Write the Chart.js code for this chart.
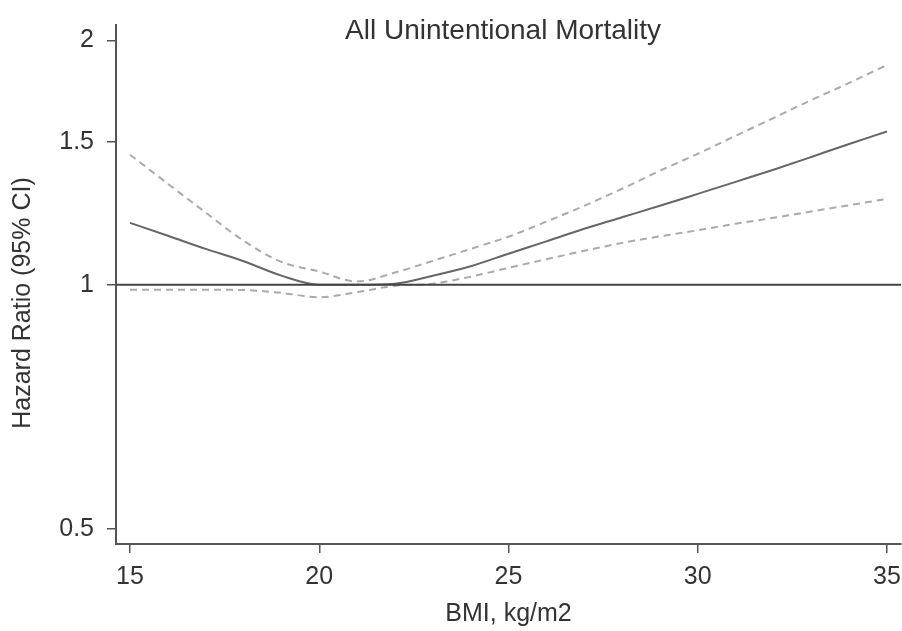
<!DOCTYPE html>
<html>
<head>
<meta charset="utf-8">
<script src="https://cdn.jsdelivr.net/npm/chart.js@4/dist/chart.umd.min.js"></script>
<style>
  html, body { margin: 0; padding: 0; background: #fff; }
  #wrap { width: 902px; height: 631px; }
</style>
</head>
<body>
<div id="wrap"><canvas id="canvas" width="902" height="631"></canvas></div>
<script>
// BMI (kg/m2) and hazard ratio with 95% CI
var bmi   = [15, 16, 17, 18, 19, 20, 21, 22, 23, 24, 25, 26, 27, 28, 29, 30, 31, 32, 33, 34, 35];
var hr    = [1.192, 1.149, 1.107, 1.069, 1.026, 1.0, 1.0, 1.003, 1.026, 1.054, 1.092, 1.131, 1.172, 1.211, 1.251, 1.294, 1.339, 1.386, 1.437, 1.491, 1.545];
var upper = [1.446, 1.332, 1.227, 1.133, 1.067, 1.038, 1.009, 1.035, 1.07, 1.107, 1.146, 1.196, 1.251, 1.313, 1.382, 1.45, 1.526, 1.605, 1.689, 1.773, 1.866];
var lower = [0.986, 0.986, 0.986, 0.985, 0.977, 0.965, 0.979, 0.997, 1.003, 1.023, 1.049, 1.075, 1.101, 1.126, 1.147, 1.167, 1.189, 1.209, 1.231, 1.253, 1.276];

var xTicks = [15, 20, 25, 30, 35];
var yTicks = [0.5, 1, 1.5, 2];
var xMin = 14.63, xMax = 35.37;
var yMin = 0.479, yMax = 2.09;
var refValue = 1;

function pts(ys) {
    return bmi.map(function(b, i) { return { x: b, y: ys[i] }; });
}

var textColor = '#333';
var axisColor = '#555';
var fontFamily = '"Liberation Sans", Arial, sans-serif';

// title sits inside the plot, y-axis title is a bit below centre in the original
var textPlugin = {
    id: 'extraText',
    afterDraw: function(chart) {
        var ctx = chart.ctx;
        ctx.save();
        ctx.fillStyle = textColor;
        ctx.textAlign = 'center';
        ctx.textBaseline = 'middle';
        ctx.font = '28px ' + fontFamily;
        ctx.fillText('All Unintentional Mortality', 503, 31);
        ctx.font = '25px ' + fontFamily;
        ctx.translate(23, 303);
        ctx.rotate(-Math.PI / 2);
        ctx.fillText('Hazard Ratio (95% CI)', 0, 0);
        ctx.restore();
    }
};

window.onload = function() {
    var ctx = document.getElementById('canvas').getContext('2d');
    window.myChart = new Chart(ctx, {
        type: 'line',
        data: {
            datasets: [{
                label: 'Reference',
                data: [{ x: xMin, y: refValue }, { x: xMax, y: refValue }],
                borderColor: '#444',
                borderWidth: 2,
                pointRadius: 0
            }, {
                label: 'Upper 95% CI',
                data: pts(upper),
                borderColor: '#aaa',
                borderWidth: 2,
                borderDash: [7, 5],
                pointRadius: 0,
                cubicInterpolationMode: 'monotone'
            }, {
                label: 'Lower 95% CI',
                data: pts(lower),
                borderColor: '#aaa',
                borderWidth: 2,
                borderDash: [7, 5],
                pointRadius: 0,
                cubicInterpolationMode: 'monotone'
            }, {
                label: 'Hazard Ratio',
                data: pts(hr),
                borderColor: '#666',
                borderWidth: 2,
                pointRadius: 0,
                cubicInterpolationMode: 'monotone'
            }]
        },
        plugins: [textPlugin],
        options: {
            responsive: false,
            animation: false,
            layout: { padding: { top: 25, right: 1, left: 0, bottom: 0 } },
            plugins: {
                legend: { display: false },
                title: { display: false },
                tooltip: { enabled: false }
            },
            scales: {
                x: {
                    type: 'linear',
                    min: xMin,
                    max: xMax,
                    afterBuildTicks: function(axis) {
                        axis.ticks = xTicks.map(function(v) { return { value: v }; });
                    },
                    afterFit: function(axis) {
                        axis.height = 87;
                        axis.paddingLeft = 0;
                        axis.paddingRight = 0;
                    },
                    border: { display: true, color: axisColor, width: 2 },
                    grid: { drawOnChartArea: false, drawTicks: true, tickLength: 9, color: axisColor, lineWidth: 1.5 },
                    ticks: {
                        padding: 9,
                        color: textColor,
                        font: { family: fontFamily, size: 25 },
                        maxRotation: 0,
                        callback: function(v) { return String(v); }
                    },
                    title: {
                        display: true,
                        text: 'BMI, kg/m2',
                        color: textColor,
                        font: { family: fontFamily, size: 25 },
                        padding: { top: 0, bottom: 2 }
                    }
                },
                y: {
                    type: 'logarithmic',
                    min: yMin,
                    max: yMax,
                    afterBuildTicks: function(axis) {
                        axis.ticks = yTicks.map(function(v) { return { value: v }; });
                    },
                    afterFit: function(axis) {
                        axis.width = 116;
                        axis.paddingTop = 0;
                        axis.paddingBottom = 0;
                    },
                    border: { display: true, color: axisColor, width: 2 },
                    grid: { drawOnChartArea: false, drawTicks: true, tickLength: 9, color: axisColor, lineWidth: 1.5 },
                    ticks: {
                        padding: 13,
                        color: textColor,
                        font: { family: fontFamily, size: 25 },
                        callback: function(v) { return String(v); }
                    },
                    title: { display: false }
                }
            }
        }
    });
};
</script>
</body>
</html>
